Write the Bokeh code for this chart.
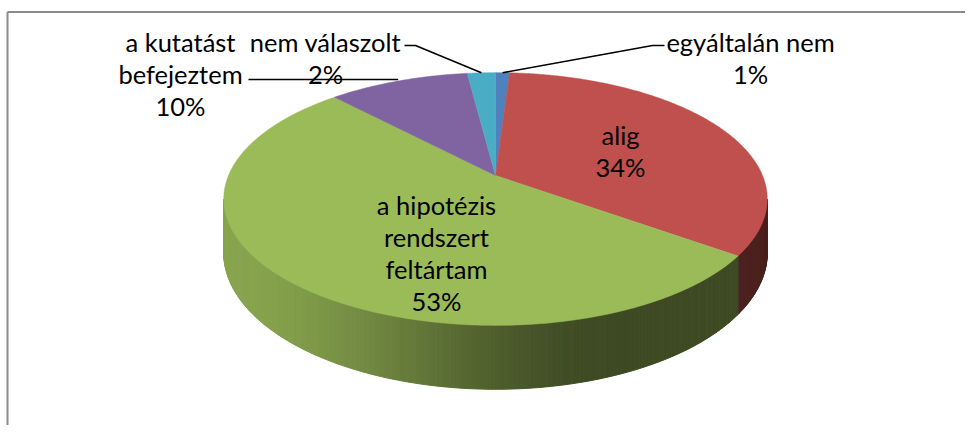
import numpy as np
from bokeh.plotting import figure
from bokeh.models import Range1d
from bokeh.embed import file_html
from bokeh.resources import INLINE
from bokeh.core.properties import value

# ---- data ----
categories = ["egyáltalán nem", "alig", "a hipotézis rendszert feltártam",
              "a kutatást befejeztem", "nem válaszolt"]
values = [1, 34, 53, 10, 2]
label_lines = [["egyáltalán nem"], ["alig"], ["a hipotézis", "rendszert", "feltártam"],
               ["a kutatást", "befejeztem"], ["nem válaszolt"]]
colors = ["#4F81BD", "#C0504D", "#9BBB59", "#8064A2", "#4BACC6"]

# ---- layout (picture pixel coordinates) ----
CX, CY = 495.0, 175.0      # apex of top face
A, B = 267.0, 122.0        # projected radii
K = 0.186                  # perspective factor
H = 52.0                   # pie thickness
label_pos = [(750, 41), (620, 134), (436, 204), (180, 41), (325, 41)]
LINE_GAP = 32
FONT = value("Lato")
FSIZE = value("25.5px")

W, Ht = 965, 425
p = figure(width=W, height=Ht, x_range=Range1d(0, W), y_range=Range1d(Ht, 0),
           output_backend="svg", toolbar_location=None, min_border=0)
p.axis.visible = False
p.grid.visible = False
p.outline_line_color = None
p.background_fill_color = "white"
p.border_fill_color = "white"


def proj(theta_deg, depth=0.0):
    t = np.radians(theta_deg)
    u, v = np.sin(t), np.cos(t)
    w = 1 + K * v
    return CX + A * u / w, CY - B * v / w + depth * H / w


def shade(hexcol, f):
    r, g, b = (int(hexcol[i:i + 2], 16) for i in (1, 3, 5))
    return "#%02x%02x%02x" % (int(r * f), int(g * f), int(b * f))


total = float(sum(values))
starts = np.concatenate([[0], np.cumsum(values)[:-1]]) / total * 360.0
ends = np.cumsum(values) / total * 360.0

# visible side range
vis_lo = np.degrees(np.arccos(-K))
vis_hi = 360 - vis_lo
xmin = proj(vis_hi)[0]
xmax = proj(vis_lo)[0]

side_xs, side_ys, side_cols = [], [], []
for s, e, c in zip(starts, ends, colors):
    a1, a2 = max(s, vis_lo), min(e, vis_hi)
    if a2 <= a1:
        continue
    n = max(2, int((a2 - a1) / 0.5))
    th = np.linspace(a1, a2, n + 1)
    for i in range(n):
        t0, t1 = th[i], th[i + 1]
        x0, y0 = proj(t0)
        x1, y1 = proj(t1)
        x0b, y0b = proj(t0, 1)
        x1b, y1b = proj(t1, 1)
        xm = (x0 + x1) / 2
        tt = (xm - xmin) / (xmax - xmin)
        q = min(1.0, max(0.0, tt / 0.72))
        q = q * q * (3 - 2 * q)
        f = 0.88 - 0.48 * q
        col = shade(c, f)
        side_xs.append([x0, x1, x1b, x0b])
        side_ys.append([y0, y1, y1b, y0b])
        side_cols.append(col)

p.patches(side_xs, side_ys, fill_color=side_cols, line_color=side_cols, line_width=1)

top_xs, top_ys = [], []
for s, e in zip(starts, ends):
    th = np.linspace(s, e, max(3, int((e - s) / 0.5) + 1))
    xs, ys = proj(th)
    top_xs.append([CX] + list(xs))
    top_ys.append([CY] + list(ys))
p.patches(top_xs, top_ys, fill_color=colors, line_color=colors, line_width=0.5)

# leader lines for outside labels
mid = (starts + ends) / 2
ax, ay = proj(mid)
# egyáltalán nem
p.line([ax[0], 652, 664], [ay[0], 45, 45], line_color="black", line_width=1.6)
# nem válaszolt
p.line([404, 415, ax[4]], [45, 45, ay[4]], line_color="black", line_width=1.6)
# a kutatást befejeztem
p.line([248, ax[3]], [79, 79], line_color="black", line_width=1.6)

# labels
tx, ty, tt = [], [], []
for lines, v, (lx, ly) in zip(label_lines, values, label_pos):
    for j, ln in enumerate(lines + [f"{v}%"]):
        tx.append(lx)
        ty.append(ly + j * LINE_GAP)
        tt.append(ln)
p.text(tx, ty, text=tt, text_align="center", text_baseline="middle",
       text_font=FONT, text_font_size=FSIZE, text_color="black")

# chart area border (left and top)
p.line([7, 7], [11.5, Ht], line_color="#8c8c8c", line_width=2)
p.line([7, W], [11.5, 11.5], line_color="#8c8c8c", line_width=2)

open("out.html", "w").write(file_html(p, INLINE))
